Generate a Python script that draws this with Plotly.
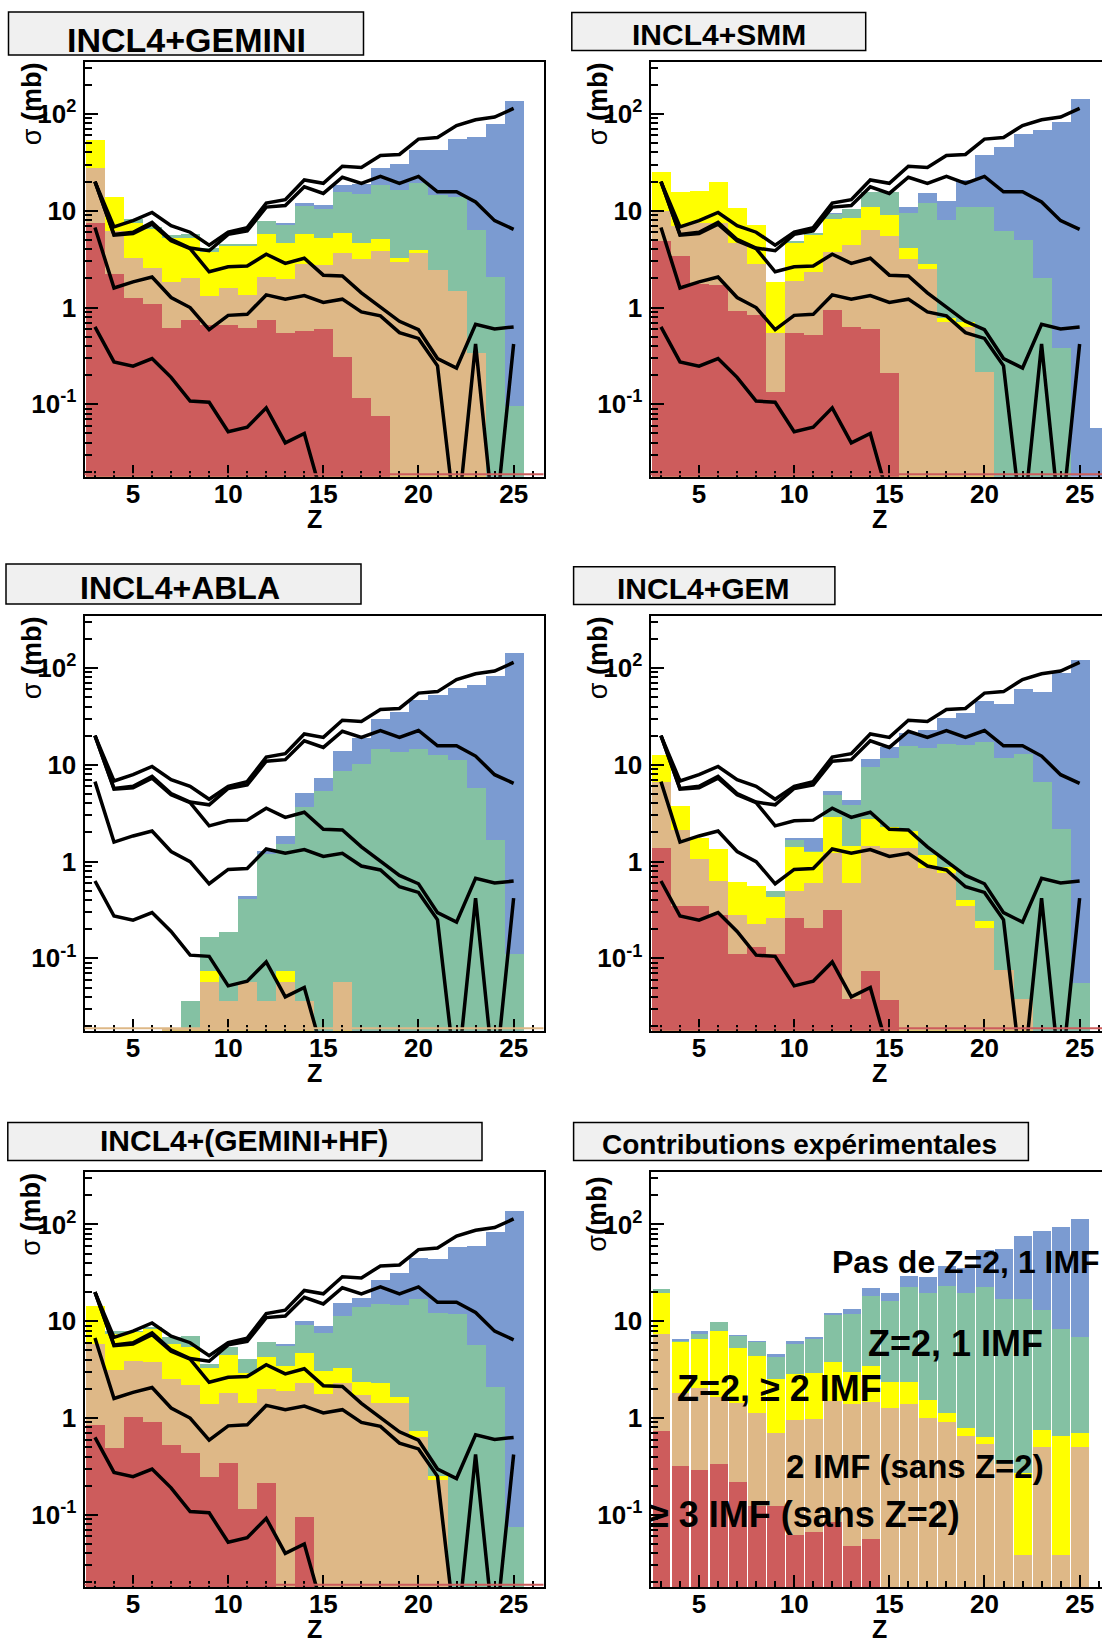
import plotly.graph_objects as go

# ---------------- data ----------------
Z = list(range(3, 27))        # histogram bins (Z = 3..26)
ZL = list(range(3, 26))       # experimental points (Z = 3..25)

PANEL_TITLES = ["INCL4+GEMINI", "INCL4+SMM", "INCL4+ABLA", "INCL4+GEM",
                "INCL4+(GEMINI+HF)", "Contributions expérimentales"]
X_TICKS = [5, 10, 15, 20, 25]
Y_TICKS = [0.1, 1, 10, 100]
Y_TICK_TEXT = ["10<sup>-1</sup>", "1", "10", "10<sup>2</sup>"]
LAYER_NAMES = ["Pas de Z=2, 1 IMF", "Z=2, 1 IMF", "Z=2, \u2265 2 IMF",
               "2 IMF (sans Z=2)", "\u2265 3 IMF (sans Z=2)"]

# cumulative (stacked) levels, Z = 3..26 : red <= tan <= yellow <= green <= blue
GEMINI_RED = [7.6, 2.25, 1.25, 1.1, 0.62, 0.75, 0.67, 0.67, 0.62, 0.75, 0.55, 0.58, 0.6, 0.31, 0.117, 0.077, 0, 0, 0, 0, 0, 0, 0, 0]
GEMINI_TAN = [27.6, 6.18, 3.29, 2.6, 1.84, 2.02, 1.33, 1.59, 1.35, 2.07, 2.0, 2.86, 2.8, 3.65, 3.18, 3.86, 2.98, 3.65, 2.44, 1.5, 0.344, 0, 0, 0]
GEMINI_YEL = [53.6, 14.1, 7.6, 6.6, 5.25, 5.25, 3.74, 4.4, 4.4, 5.8, 4.65, 5.8, 5.25, 5.9, 4.65, 5.13, 3.29, 3.96, 2.48, 1.5, 0.344, 0, 0, 0]
GEMINI_GRN = [53.6, 14.1, 8.2, 6.8, 5.6, 5.8, 4.12, 4.6, 4.6, 7.9, 7.2, 11.3, 10.4, 15.7, 15.0, 18.4, 16.6, 19.6, 14.5, 13.9, 6.4, 2.07, 0.096, 0]
GEMINI_BLU = [53.6, 14.1, 8.2, 6.8, 5.6, 5.8, 4.12, 4.6, 4.6, 7.9, 7.6, 12.0, 11.5, 18.4, 19.2, 27.6, 30.4, 43.0, 43.0, 55.8, 58.0, 80.0, 136.0, 0]

SMM_RED = [4.85, 3.45, 1.76, 1.72, 0.92, 0.85, 0.134, 0.553, 0.52, 0.95, 0.64, 0.60, 0.211, 0, 0, 0, 0, 0, 0, 0, 0, 0, 0, 0]
SMM_TAN = [10.0, 6.98, 7.57, 7.57, 4.65, 2.86, 0.545, 1.91, 2.34, 3.8, 4.47, 6.43, 5.56, 3.23, 2.54, 0.71, 0.64, 0.215, 0, 0, 0, 0, 0, 0]
SMM_YEL = [25.5, 15.7, 16.1, 20.0, 10.7, 7.15, 1.84, 4.65, 5.7, 8.2, 8.5, 11.1, 9.1, 4.12, 2.86, 0.785, 0.72, 0.215, 0, 0, 0, 0, 0, 0]
SMM_GRN = [25.5, 15.7, 16.1, 20.0, 10.7, 7.15, 1.84, 4.85, 5.93, 9.26, 10.5, 15.7, 15.7, 9.6, 12.1, 8.0, 10.9, 11.0, 6.18, 4.97, 2.02, 0.388, 0, 0]
SMM_BLU = [25.5, 15.7, 16.1, 20.0, 10.7, 7.15, 1.84, 4.85, 5.93, 9.5, 10.5, 15.7, 15.7, 10.9, 15.3, 12.8, 21.1, 37.6, 46.0, 63.0, 69.0, 82.4, 143.0, 0.057]

ABLA_RED = [0] * 24
ABLA_TAN = [0, 0, 0, 0, 0.019, 0.019, 0.0572, 0.0368, 0.0572, 0.0368, 0.0572, 0.0368, 0, 0.0572, 0, 0, 0, 0, 0, 0, 0, 0, 0, 0]
ABLA_YEL = [0, 0, 0, 0, 0.019, 0.019, 0.074, 0.0368, 0.0572, 0.0368, 0.074, 0.0368, 0, 0.0572, 0, 0, 0, 0, 0, 0, 0, 0, 0, 0]
ABLA_GRN = [0, 0, 0, 0, 0.019, 0.0368, 0.169, 0.187, 0.418, 1.2, 1.53, 3.69, 5.38, 8.7, 10.2, 14.7, 13.5, 14.7, 12.8, 11.2, 5.74, 1.68, 0.113, 0]
ABLA_BLU = [0, 0, 0, 0, 0.019, 0.0368, 0.169, 0.187, 0.44, 1.3, 1.87, 5.09, 7.3, 13.9, 19.1, 30.2, 35.4, 46.9, 52.8, 62.0, 67.2, 84.0, 145.0, 0]

GEM_RED = [1.38, 0.353, 0.353, 0.285, 0.113, 0.133, 0.113, 0.263, 0.207, 0.316, 0.0385, 0.0748, 0.0376, 0, 0, 0, 0, 0, 0, 0, 0, 0, 0, 0]
GEM_TAN = [6.72, 2.16, 1.08, 0.634, 0.285, 0.228, 0.263, 0.499, 0.6, 1.25, 0.6, 1.45, 1.38, 1.38, 0.873, 0.774, 0.353, 0.207, 0.076, 0.0385, 0, 0, 0, 0]
GEM_YEL = [12.7, 3.75, 1.75, 1.36, 0.618, 0.57, 0.431, 1.41, 1.27, 2.9, 1.47, 2.79, 2.28, 2.1, 1.17, 0.894, 0.408, 0.243, 0.076, 0.0385, 0, 0, 0, 0]
GEM_GRN = [12.7, 3.75, 1.75, 1.36, 0.618, 0.57, 0.499, 1.7, 1.3, 4.96, 3.84, 9.6, 11.8, 15.6, 15.0, 16.5, 16.2, 17.3, 11.8, 13.0, 6.72, 2.19, 0.056, 0]
GEM_BLU = [12.7, 3.75, 1.75, 1.36, 0.618, 0.57, 0.499, 1.75, 1.75, 5.37, 4.33, 11.6, 15.2, 21.4, 23.2, 30.7, 34.7, 45.9, 42.4, 61.7, 56.9, 89.0, 122.0, 0]

HF_RED = [0.852, 0.488, 1.02, 0.9, 0.528, 0.432, 0.243, 0.34, 0.113, 0.211, 0, 0.0948, 0, 0, 0, 0, 0, 0, 0, 0, 0, 0, 0, 0]
HF_TAN = [5.8, 3.13, 3.89, 3.73, 2.5, 2.17, 1.38, 1.79, 1.43, 2.0, 1.89, 2.31, 1.78, 2.31, 1.71, 1.41, 1.41, 0.634, 0.228, 0, 0, 0, 0, 0]
HF_YEL = [14.2, 7.36, 7.67, 8.3, 5.8, 5.35, 3.24, 4.45, 2.94, 4.21, 3.4, 4.63, 3.06, 3.31, 2.37, 2.28, 1.65, 0.726, 0.251, 0, 0, 0, 0, 0]
HF_GRN = [14.2, 7.98, 7.98, 8.64, 6.8, 6.96, 3.59, 5.35, 4.05, 6.13, 5.58, 9.0, 7.55, 11.4, 14.0, 15.1, 14.8, 17.0, 12.1, 11.7, 5.66, 2.1, 0.0746, 0]
HF_BLU = [14.2, 7.98, 7.98, 8.64, 6.8, 6.96, 3.59, 5.35, 4.05, 6.13, 5.8, 9.9, 8.85, 15.4, 17.3, 26.4, 31.0, 44.4, 43.8, 58.7, 60.2, 82.8, 136.0, 0]

EXP_RED = [0.728, 0.316, 0.287, 0.331, 0.215, 0.123, 0.123, 0.061, 0.066, 0.084, 0.047, 0.0565, 0, 0, 0, 0, 0, 0, 0, 0, 0, 0, 0, 0]
EXP_TAN = [7.38, 1.8, 2.01, 1.66, 1.44, 1.13, 0.689, 0.948, 0.963, 1.49, 1.38, 1.46, 1.27, 1.38, 1.0, 0.903, 0.646, 0.542, 0.33, 0.038, 0.496, 0.038, 0.496, 0]
EXP_YEL = [19.3, 6.04, 6.45, 7.8, 5.24, 4.32, 2.51, 2.83, 2.88, 3.8, 2.99, 3.46, 2.32, 2.32, 1.52, 1.13, 0.777, 0.636, 0.336, 0.268, 0.74, 0.656, 0.689, 0]
EXP_GRN = [21.4, 6.29, 7.38, 9.77, 6.98, 6.1, 4.22, 5.86, 6.45, 11.5, 11.9, 18.2, 16.0, 22.6, 19.5, 23.1, 19.5, 22.6, 16.7, 16.7, 12.9, 8.32, 6.82, 0]
EXP_BLU = [21.4, 6.45, 7.8, 9.77, 7.21, 6.24, 4.61, 6.24, 6.92, 12.2, 13.4, 21.7, 19.5, 29.4, 28.7, 37.3, 35.6, 54.4, 55.7, 76.0, 85.7, 92.9, 114.0, 0]

# experimental cumulative curves (black lines), Z = 3..25
LINE_ALL = [20.0, 6.8, 7.9, 9.6, 7.0, 6.0, 4.4, 6.0, 6.7, 12.0, 13.0, 20.8, 19.2, 28.8, 28.0, 37.3, 38.2, 55.0, 57.0, 76.0, 87.0, 93.0, 114.0]
LINE_Z2_1IMF = [20.0, 5.7, 6.0, 7.6, 5.05, 4.12, 3.86, 5.7, 6.2, 10.9, 11.3, 17.7, 15.1, 22.2, 19.2, 22.6, 19.2, 22.6, 15.7, 15.7, 12.3, 7.9, 6.43]
LINE_Z2_2IMF = [20.0, 5.6, 5.8, 7.27, 4.9, 4.06, 2.34, 2.64, 2.68, 3.56, 2.86, 3.23, 2.16, 2.12, 1.42, 1.0, 0.72, 0.59, 0.297, 0.237, 0.67, 0.6, 0.63]
LINE_2IMF = [6.7, 1.59, 1.84, 2.07, 1.27, 1.0, 0.59, 0.83, 0.85, 1.35, 1.22, 1.33, 1.13, 1.22, 0.9, 0.82, 0.55, 0.48, 0.25, 0.005, 0.42, 0.005, 0.42]
LINE_3IMF = [0.63, 0.274, 0.248, 0.297, 0.19, 0.108, 0.105, 0.052, 0.058, 0.092, 0.040, 0.05, 0.01, 0, 0, 0, 0, 0, 0, 0, 0, 0, 0]

COLORS = {"blu": "#7B9BD1", "grn": "#84C1A3", "yel": "#FFFF00", "tan": "#DEB887", "red": "#CD5C5C"}

PANELS = [
    dict(blu=GEMINI_BLU, grn=GEMINI_GRN, yel=GEMINI_YEL, tan=GEMINI_TAN, red=GEMINI_RED),
    dict(blu=SMM_BLU, grn=SMM_GRN, yel=SMM_YEL, tan=SMM_TAN, red=SMM_RED),
    dict(blu=ABLA_BLU, grn=ABLA_GRN, yel=ABLA_YEL, tan=ABLA_TAN, red=ABLA_RED),
    dict(blu=GEM_BLU, grn=GEM_GRN, yel=GEM_YEL, tan=GEM_TAN, red=GEM_RED),
    dict(blu=HF_BLU, grn=HF_GRN, yel=HF_YEL, tan=HF_TAN, red=HF_RED),
    dict(blu=EXP_BLU, grn=EXP_GRN, yel=EXP_YEL, tan=EXP_TAN, red=EXP_RED),
]
LINES = [LINE_ALL, LINE_Z2_1IMF, LINE_Z2_2IMF, LINE_2IMF, LINE_3IMF]
# colour of the zero-level histogram outline seen along the bottom of each panel
BASELINE_COLOR = ["red", "red", "tan", "red", "red", None]

# ---------------- layout geometry (pixels) ----------------
W, H = 1102, 1641
FONT = "Liberation Sans, Arial, Helvetica, sans-serif"
COLS = [(84.5, 543.5), (650.5, 1102.0)]
ROWS = [(61.7, 476.7), (615.7, 1030.8), (1172.2, 1587.2)]
PX_PER_Z = 19.03
X0 = 2.45
Y_RANGE = [-1.748, 2.540]
TITLE_BOXES = [(8.5, 12, 363.5, 55), (571.8, 12.6, 865.7, 50.4), (6, 564, 361, 604),
               (573.6, 566.7, 834.9, 604.4), (7.8, 1122.4, 482, 1160.4), (573.6, 1122.4, 1028.4, 1160.4)]
TITLE_POS = [(186, 40, 34), (719, 34, 30), (180, 588, 32), (703, 588, 30), (244, 1140, 30), (799, 1144.5, 28)]


def fx(x):
    return x / W


def fy(y):
    return 1 - y / H


def nz(vals):
    return [v if v > 0 else None for v in vals]


fig = go.Figure()
minor_x = [z for z in range(3, 27) if z not in X_TICKS]
minor_y = [m * 10 ** e for e in (-2, -1, 0, 1) for m in range(2, 10)] + [200, 300]
TICKFONT = dict(family=FONT, size=26, color="black", weight="bold")

shapes, annots = [], []
for i in range(6):
    r, c = divmod(i, 2)
    xl, xr = COLS[c]
    yt, yb = ROWS[r]
    sfx = "" if i == 0 else str(i + 1)
    xa, ya = "x" + sfx, "y" + sfx
    xmax = X0 + (xr - xl) / PX_PER_Z
    fig.layout["xaxis" + sfx] = dict(
        domain=[fx(xl), fx(xr)], anchor=ya, range=[X0, xmax],
        tickmode="array", tickvals=X_TICKS, ticktext=[str(t) for t in X_TICKS],
        ticks="inside", ticklen=12, tickwidth=2, tickcolor="black",
        minor=dict(tickmode="array", tickvals=minor_x, ticks="inside", ticklen=6, tickwidth=1.5,
                   tickcolor="black", showgrid=False),
        showline=True, linewidth=2, linecolor="black", mirror=True,
        showgrid=False, zeroline=False, ticklabelstandoff=-7, tickfont=TICKFONT,
    )
    fig.layout["yaxis" + sfx] = dict(
        domain=[fy(yb), fy(yt)], anchor=xa, type="log", range=Y_RANGE,
        tickmode="array", tickvals=Y_TICKS, ticktext=Y_TICK_TEXT,
        ticks="inside", ticklen=13, tickwidth=2, tickcolor="black",
        minor=dict(tickmode="array", tickvals=minor_y, ticks="inside", ticklen=7, tickwidth=1.5,
                   tickcolor="black", showgrid=False),
        showline=True, linewidth=2, linecolor="black", mirror=(c == 0),
        showgrid=False, zeroline=False, ticklabelstandoff=1, tickfont=TICKFONT,
    )
    p = PANELS[i]
    bw = 0.94 if i == 5 else 1.0
    for key in ("blu", "grn", "yel", "tan", "red"):
        fig.add_trace(go.Bar(x=Z, y=nz(p[key]), width=bw, xaxis=xa, yaxis=ya,
                             marker=dict(color=COLORS[key], line=dict(width=0)),
                             showlegend=False, hoverinfo="skip"))
    if BASELINE_COLOR[i]:
        shapes.append(dict(type="line", xref=xa + " domain", yref=ya + " domain",
                           x0=0, x1=1, y0=0.006, y1=0.006, layer="above",
                           line=dict(color=COLORS[BASELINE_COLOR[i]], width=2)))
    if i < 5:
        for ln in LINES:
            fig.add_trace(go.Scatter(x=ZL, y=nz(ln), mode="lines", xaxis=xa, yaxis=ya,
                                     line=dict(color="black", width=3.5), showlegend=False,
                                     hoverinfo="skip"))
    # title box
    bx0, by0, bx1, by1 = TITLE_BOXES[i]
    shapes.append(dict(type="rect", xref="paper", yref="paper", x0=fx(bx0), x1=fx(bx1),
                       y0=fy(by1), y1=fy(by0), fillcolor="#F0F0F0",
                       line=dict(color="black", width=1.5), layer="above"))
    tx, ty, ts = TITLE_POS[i]
    annots.append(dict(xref="paper", yref="paper", x=fx(tx), y=fy(ty), text=PANEL_TITLES[i],
                       showarrow=False, xanchor="center", yanchor="middle",
                       font=dict(family=FONT, size=ts, color="black", weight="bold")))
    # axis titles
    ytxt = "\u03c3<b>(mb)</b>" if i == 5 else "\u03c3 <b>(mb)</b>"
    annots.append(dict(xref="paper", yref="paper", x=fx(xl - 53), y=fy(yt + 42), text=ytxt,
                       textangle=-90, showarrow=False, xanchor="center", yanchor="middle",
                       font=dict(family=FONT, size=27, color="black")))
    annots.append(dict(xref="paper", yref="paper", x=fx((xl + (xl + 459)) / 2), y=fy(yb + 42),
                       text="<b>Z</b>", showarrow=False, xanchor="center", yanchor="middle",
                       font=dict(family=FONT, size=25, color="black")))

# labels of the experimental contributions
LABEL_POS = [(830.4, 1262, 32), (866.4, 1343, 36), (674.6, 1388.5, 36), (784, 1466, 33), (647, 1514.5, 36)]
for name, (lx, ly, ls) in zip(LAYER_NAMES, LABEL_POS):
    annots.append(dict(xref="paper", yref="paper", x=fx(lx), y=fy(ly), text=name,
                       showarrow=False, xanchor="left", yanchor="middle",
                       font=dict(family=FONT, size=ls, color="black", weight="bold")))

fig.update_layout(
    width=W, height=H, margin=dict(l=0, r=0, t=0, b=0),
    paper_bgcolor="white", plot_bgcolor="white",
    barmode="overlay", bargap=0, showlegend=False,
    shapes=shapes, annotations=annots,
    font=dict(family=FONT, color="black"),
)

fig.write_html("out.html", config={"displayModeBar": False},
               post_script="document.body.style.margin='0px';document.body.style.overflow='hidden';")
